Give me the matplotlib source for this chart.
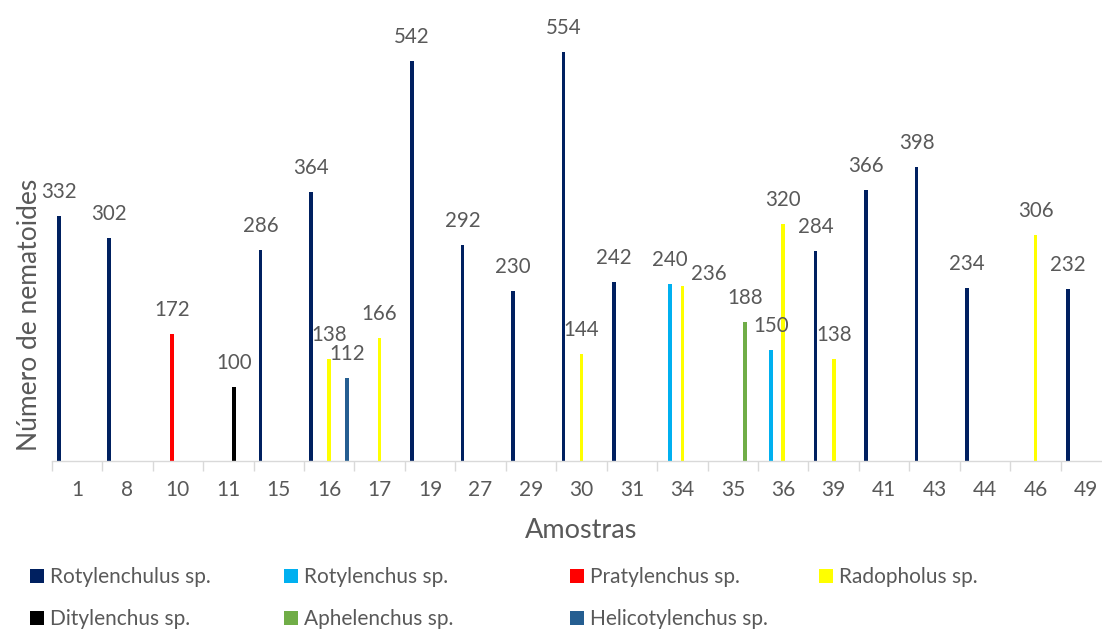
import numpy as np
import matplotlib
matplotlib.use("Agg")
import matplotlib.pyplot as plt
from matplotlib.patches import Patch

# samples (x categories)
samples = ["1", "8", "10", "11", "15", "16", "17", "19", "27", "29", "30",
           "31", "34", "35", "36", "39", "41", "43", "44", "46", "49"]

# nematode counts per sample, 0 = not found
rotylenchulus = [332, 302, 0, 0, 286, 364, 0, 542, 292, 230, 554,
                 242, 0, 0, 0, 284, 366, 398, 234, 0, 232]
rotylenchus = [0, 0, 0, 0, 0, 0, 0, 0, 0, 0, 0,
               0, 240, 0, 150, 0, 0, 0, 0, 0, 0]
pratylenchus = [0, 0, 172, 0, 0, 0, 0, 0, 0, 0, 0,
                0, 0, 0, 0, 0, 0, 0, 0, 0, 0]
radopholus = [0, 0, 0, 0, 0, 138, 166, 0, 0, 0, 144,
              0, 236, 0, 320, 138, 0, 0, 0, 306, 0]
ditylenchus = [0, 0, 0, 100, 0, 0, 0, 0, 0, 0, 0,
               0, 0, 0, 0, 0, 0, 0, 0, 0, 0]
aphelenchus = [0, 0, 0, 0, 0, 0, 0, 0, 0, 0, 0,
               0, 0, 188, 0, 0, 0, 0, 0, 0, 0]
helicotylenchus = [0, 0, 0, 0, 0, 112, 0, 0, 0, 0, 0,
                   0, 0, 0, 0, 0, 0, 0, 0, 0, 0]

series_names = ["Rotylenchulus sp.", "Rotylenchus sp.", "Pratylenchus sp.",
                "Radopholus sp.", "Ditylenchus sp.", "Aphelenchus sp.",
                "Helicotylenchus sp."]
series_values = [rotylenchulus, rotylenchus, pratylenchus, radopholus,
                 ditylenchus, aphelenchus, helicotylenchus]
colors = ["#002060", "#00B0F0", "#FF0000", "#FFFF00",
          "#000000", "#70AD47", "#255E91"]

grey = "#595959"
plt.rcParams["font.family"] = ["Lato", "DejaVu Sans"]

fig = plt.figure(figsize=(11.02, 6.33), dpi=100)
W, H = 1102, 633
ax = fig.add_axes([51.7 / W, 1 - 460.7 / H, 1059.5 / W, 443 / H])

x = np.arange(len(samples))
slot = 0.1195
bar_w = 0.072

# label nudges (in pixels) where Excel moved a label to avoid overlap
label_shift = {(3, 12): (26, 6)}

for i, (name, vals, col) in enumerate(zip(series_names, series_values, colors)):
    vals = np.array(vals, dtype=float)
    xs = x + (i - 3) * slot
    ax.bar(xs, vals, width=bar_w, color=col, linewidth=0, label=name)
    for k, v in enumerate(vals):
        if v <= 0:
            continue
        dx, dy = label_shift.get((i, k), (0, 18))
        ax.annotate(f"{int(v)}", xy=(xs[k], v), xytext=(dx * 0.72, dy * 0.72),
                    textcoords="offset points", ha="center", va="baseline",
                    fontsize=14.8, color=grey)

ax.set_xlim(-0.5, len(samples) - 0.5)
ax.set_ylim(0, 600)
ax.set_yticks([])
ax.set_xticks(x)
ax.set_xticklabels(samples, fontsize=15, color=grey)
ax.tick_params(axis="x", which="major", length=0, pad=14)
ax.set_xticks(np.arange(-0.5, len(samples), 1), minor=True)
ax.tick_params(axis="x", which="minor", length=7, color="#D9D9D9", width=1)

for side in ["top", "right", "left"]:
    ax.spines[side].set_visible(False)
ax.spines["bottom"].set_color("#D9D9D9")
ax.spines["bottom"].set_linewidth(1)

ax.set_xlabel("Amostras", fontsize=19.5, color=grey, va="center")
ax.xaxis.set_label_coords(0.5, -0.158)
ax.set_ylabel("Número de nematoides", fontsize=19, color=grey, va="center")
ax.yaxis.set_label_coords(-0.0205, 0.329)

# legend laid out column by column like the spreadsheet one
handles = [Patch(facecolor=c, edgecolor="none") for c in colors]
columns = [[0, 4], [1, 5], [2, 6], [3]]
col_x = [30, 284, 570, 819]
for xpos, idx in zip(col_x, columns):
    fig.legend([handles[j] for j in idx], [series_names[j] for j in idx],
               loc="upper left", bbox_to_anchor=(xpos / W, 1 - 567 / H),
               frameon=False, fontsize=15, labelcolor=grey,
               handlelength=0.65, handleheight=0.65, handletextpad=0.3,
               labelspacing=1.05, borderpad=0, borderaxespad=0)

fig.savefig("out.png", dpi=100)
